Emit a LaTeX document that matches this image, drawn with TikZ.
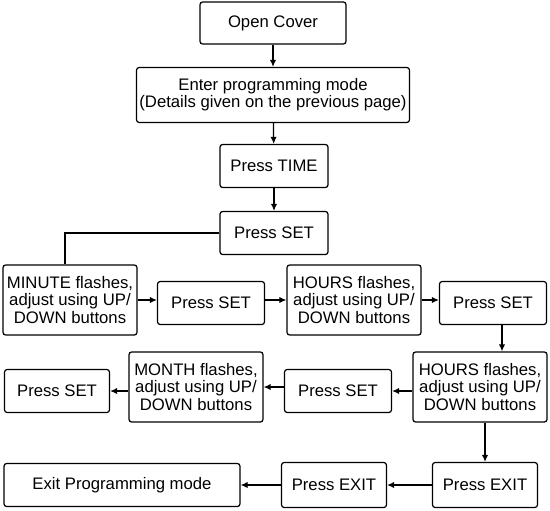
\documentclass[tikz,border=0pt]{standalone}
\usepackage{fontspec}
\setmainfont{Liberation Sans}
\usetikzlibrary{arrows.meta}

\begin{document}
\begin{tikzpicture}[x=0.02cm, y=-0.02cm]
\tikzset{boite/.style={draw, rounded corners=1.5pt, line width=0.7pt, inner sep=0pt,
  align=center, minimum height=0.86cm, font=\fontsize{9.5}{9.7}\selectfont},
  flash/.style={boite, minimum width=2.68cm, minimum height=1.4cm},
  fleche/.style={line width=0.7pt, -{Latex[length=4pt, width=3.6pt]}}}
\useasboundingbox (0, 0) rectangle (550, 510);
\node[boite, minimum width=2.92cm, minimum height=0.84cm] (Cover) at (273, 23) {Open Cover};
\node[boite, minimum width=5.46cm, minimum height=1.1cm] (Prog) at (273, 95) {Enter programming mode\\(Details given on the previous page)};
\node[boite, minimum width=2.16cm] (Time) at (274, 166) {Press TIME};
\node[boite, minimum width=2.16cm] (Set1) at (274, 233) {Press SET};
\node[flash] (Minute) at (70, 300) {MINUTE flashes,\\adjust using UP/\\DOWN buttons};
\node[boite, minimum width=2.14cm] (Set2) at (211, 303) {Press SET};
\node[flash] (Hours1) at (354, 300) {HOURS flashes,\\adjust using UP/\\DOWN buttons};
\node[boite, minimum width=2.14cm] (Set3) at (493, 303) {Press SET};
\node[flash] (Hours2) at (480, 387) {HOURS flashes,\\adjust using UP/\\DOWN buttons};
\node[boite, minimum width=2.14cm] (Set4) at (338, 391) {Press SET};
\node[flash] (Month) at (196, 387) {MONTH flashes,\\adjust using UP/\\DOWN buttons};
\node[boite, minimum width=2.1cm] (Set5) at (57, 391) {Press SET};
\node[boite, minimum width=2.1cm, minimum height=0.9cm] (Exit2) at (485, 485) {Press EXIT};
\node[boite, minimum width=2.1cm, minimum height=0.9cm] (Exit1) at (334, 485) {Press EXIT};
\node[boite, minimum width=4.72cm] (Quit) at (122, 485) {Exit Programming mode};
\draw[fleche] (Cover) -- (Prog);
\draw[fleche] (Prog) -- (Time);
\draw[fleche] (Time) -- (Set1);
\draw[line width=0.7pt] (Set1.west) -| ([xshift=-0.1cm]Minute.north);
\draw[fleche] (Minute) -- (Minute -| Set2.west);
\draw[fleche] (Set2.east |- Hours1) -- (Hours1);
\draw[fleche] (Hours1) -- (Hours1 -| Set3.west);
\draw[fleche] ([xshift=0.18cm]Set3.south) -- ([xshift=0.18cm]Set3.south |- Hours2.north);
\draw[fleche] (Hours2.west |- Set4) -- (Set4);
\draw[fleche] (Set4.west |- Month) -- (Month);
\draw[fleche] (Month.west |- Set5) -- (Set5);
\draw[fleche] ([xshift=0.1cm]Hours2.south) -- ([xshift=0.1cm]Hours2.south |- Exit2.north);
\draw[fleche] (Exit2) -- (Exit1);
\draw[fleche] (Exit1) -- (Quit);
\end{tikzpicture}
\end{document}
